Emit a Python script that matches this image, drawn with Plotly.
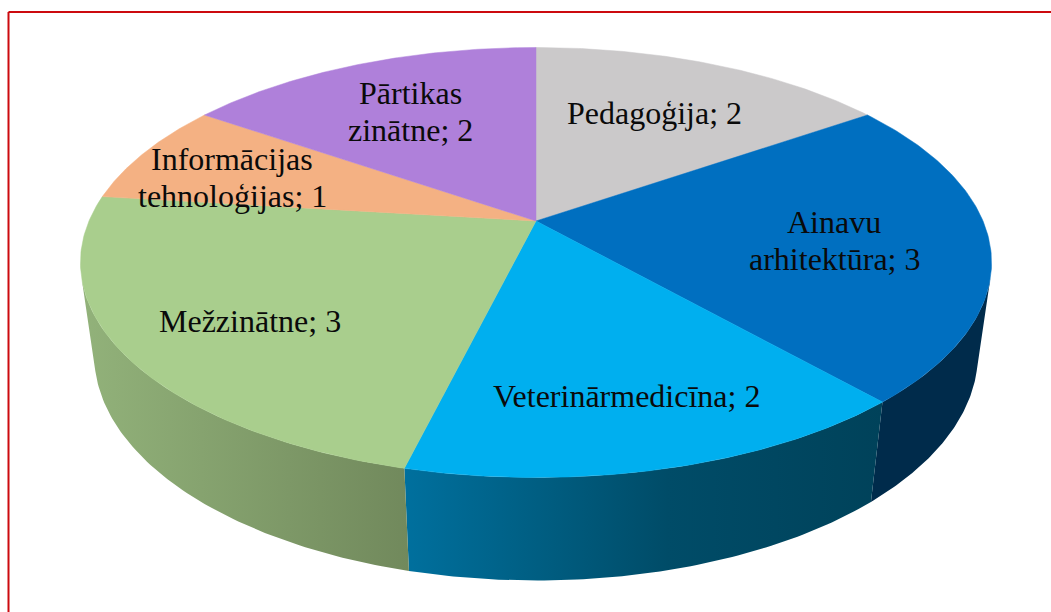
import numpy as np
import plotly.graph_objects as go

categories = ["Pedagoģija", "Ainavu arhitektūra", "Veterinārmedicīna", "Mežzinātne",
              "Informācijas tehnoloģijas", "Pārtikas zinātne"]
values = [2, 3, 2, 3, 1, 2]
label_lines = [["Pedagoģija; 2"], ["Ainavu", "arhitektūra; 3"], ["Veterinārmedicīna; 2"], ["Mežzinātne; 3"],
               ["Informācijas", "tehnoloģijas; 1"], ["Pārtikas", "zinātne; 2"]]
label_x = [654, 834, 626, 250, 232, 410]
label_y = [113, 240, 396, 321, 177, 111]
LINE_GAP = 37
top_colors = ["#cbc9ca", "#006fc0", "#00afef", "#a9ce8d", "#f4b183", "#af80da"]
side_scales = [
    None,
    [[0, "rgb(0,43,75)"], [1, "rgb(0,43,75)"]],
    [[0, "rgb(0,112,158)"], [0.28, "rgb(0,94,130)"], [0.55, "rgb(0,76,104)"], [1, "rgb(0,66,90)"]],
    [[0, "rgb(146,178,122)"], [1, "rgb(113,137,92)"]],
    None,
    None,
]

# perspective projection of the pie disc: (centre y, x scale, y scale, perspective)
CX = 536
TOP_RIM = (221, 447, 207, 0.193)
LOW_RIM = (312, 434, 218, 0.188)
VISIBLE = (105, 255)  # angular range of the outer wall that faces the viewer


def project(theta_deg, rim):
    cy, a, e, b = rim
    t = np.radians(theta_deg)
    u, v = np.sin(t), np.cos(t)
    w = 1 + b * v
    return CX + a * u / w, cy - e * v / w


edges = np.concatenate([[0], np.cumsum(values)]) / np.sum(values) * 360
fig = go.Figure()

for i, scale in enumerate(side_scales):
    if scale is None:
        continue
    lo, hi = max(edges[i], VISIBLE[0]), min(edges[i + 1], VISIBLE[1])
    th = np.linspace(lo, hi, 80)
    xt, yt = project(th, TOP_RIM)
    xb, yb = project(th[::-1], LOW_RIM)
    fig.add_trace(go.Scatter(
        x=np.concatenate([xt, xb]).tolist(), y=np.concatenate([yt, yb]).tolist(),
        mode="lines", line=dict(width=0), fill="toself",
        fillgradient=dict(type="horizontal", colorscale=scale),
        hoverinfo="skip", showlegend=False))

for i, cat in enumerate(categories):
    th = np.linspace(edges[i], edges[i + 1], 120)
    xt, yt = project(th, TOP_RIM)
    fig.add_trace(go.Scatter(
        x=[CX] + xt.tolist() + [CX], y=[TOP_RIM[0]] + yt.tolist() + [TOP_RIM[0]],
        mode="lines", line=dict(width=0.5, color=top_colors[i]), fill="toself",
        fillcolor=top_colors[i], name=cat, text=f"{cat}: {values[i]}",
        hoverinfo="text", showlegend=False))

for lines, x, y in zip(label_lines, label_x, label_y):
    for k, line in enumerate(lines):
        fig.add_annotation(x=x, y=y + (k - (len(lines) - 1) / 2) * LINE_GAP, text=line, showarrow=False,
                           xanchor="center", yanchor="middle", align="center",
                           font=dict(family="Liberation Serif", size=32, color="#0a0a0a"))

frame = dict(color="#cc0a0f", width=2)
fig.add_shape(type="line", x0=8.5, x1=8.5, y0=12, y1=612, line=frame, layer="above")
fig.add_shape(type="line", x0=8.5, x1=1051, y0=12, y1=12, line=frame, layer="above")

fig.update_layout(
    width=1051, height=612, margin=dict(l=0, r=0, t=0, b=0),
    paper_bgcolor="white", plot_bgcolor="white", showlegend=False,
    xaxis=dict(range=[0, 1051], visible=False, fixedrange=True),
    yaxis=dict(range=[612, 0], visible=False, fixedrange=True),
)
fig.write_html("out.html", config={"displayModeBar": False},
               post_script="document.body.style.margin='0';document.documentElement.style.overflow='hidden';")
